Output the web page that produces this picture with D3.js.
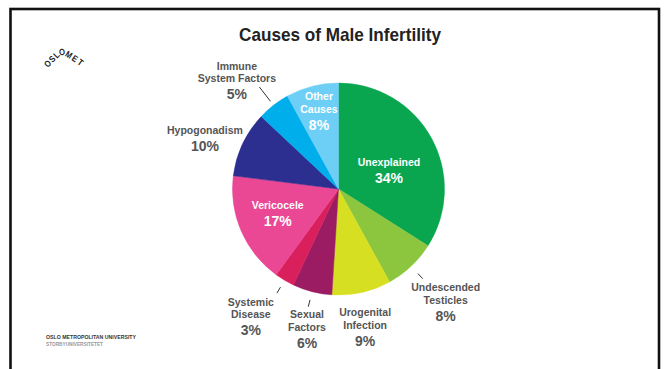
<!DOCTYPE html>
<html><head><meta charset="utf-8">
<script src="https://cdn.jsdelivr.net/npm/d3@7"></script>
<style>
html,body{margin:0;padding:0;background:#fff;}
svg{display:block;}
text{font-family:"Liberation Sans",Arial,Helvetica,sans-serif;font-weight:bold;}
</style></head>
<body>
<svg id="chart" width="666" height="369"></svg>
<script>
// ---- data ----
const categories = ["Unexplained","Undescended Testicles","Urogenital Infection","Sexual Factors","Systemic Disease","Vericocele","Hypogonadism","Immune System Factors","Other Causes"];
const labelLines = [["Unexplained"],["Undescended","Testicles"],["Urogenital","Infection"],["Sexual","Factors"],["Systemic","Disease"],["Vericocele"],["Hypogonadism"],["Immune","System Factors"],["Other","Causes"]];
const values = [34, 8, 9, 6, 3, 17, 10, 5, 8];
const colors = ["#0aa64f","#8cc63f","#d6df22","#9c1c63","#da1f5d","#ea4895","#2c2f8f","#00aeec","#6dcff6"];
const title = "Causes of Male Infertility";
const logoLetters = ["O","S","L","O","M","E","T"];

// ---- layout (not data) ----
const W = 666, H = 369;
const cx = 338.5, cy = 189, R = 106;
// label placement: [angle offset deg, distance from centre, inside?]
const labelLayout = [
  [4.3, 55.5, true],
  [-3.2, 148, false],
  [0.8, 130, false],
  [-0.7, 133, false],
  [6.3, 146, false],
  [5.1, 64, true],
  [-2.8, 144.5, false],
  [-2.7, 156.5, false],
  [2.0, 91, true]
];
// leader ticks: [r0, r1] or null
const ticks = [null, [116,123], null, [114.5,121.5], [114,121], null, null, [111,129], null];
// logo letter placement [x, y, rotation]
const logoPos = [[47.5,63.5,-45],[52,59,-45],[56.3,54.8,-45],[62,52,-8],[68.8,54.6,32],[74.8,58.4,34],[80.5,62.3,36]];

const svg = d3.select("#chart");

// frame
svg.append("rect").attr("x",10.5).attr("y",9).attr("width",648.5).attr("height",400)
  .attr("fill","none").attr("stroke","#111").attr("stroke-width",2.6);

// title
svg.append("text").attr("x",340).attr("y",41).attr("text-anchor","middle")
  .attr("font-size",19).attr("fill","#222")
  .attr("textLength",202).attr("lengthAdjust","spacingAndGlyphs").text(title);

// logo
const logo = svg.append("g");
logoLetters.forEach((ch,i)=>{
  const [x,y,r] = logoPos[i];
  logo.append("text").attr("transform",`translate(${x},${y}) rotate(${r}) scale(0.85,1)`)
    .attr("text-anchor","middle").attr("dominant-baseline","central")
    .attr("font-size",9).attr("font-weight",900).attr("fill","#222").text(ch);
});

svg.append("text").attr("x",46).attr("y",339).attr("font-size",5.5).attr("fill","#333")
  .attr("textLength",90).attr("lengthAdjust","spacingAndGlyphs").text("OSLO METROPOLITAN UNIVERSITY");
svg.append("text").attr("x",46).attr("y",345.5).attr("font-size",5.5).attr("fill","#999").attr("font-weight","normal")
  .attr("textLength",57).attr("lengthAdjust","spacingAndGlyphs").text("STORBYUNIVERSITETET");

// pie
const pie = d3.pie().sort(null).value(d => d).startAngle(0).endAngle(2*Math.PI);
const arcs = pie(values);
const arc = d3.arc().innerRadius(0).outerRadius(R);
const g = svg.append("g").attr("transform",`translate(${cx},${cy})`);
g.selectAll("path.slice").data(arcs).join("path").attr("class","slice")
  .attr("d",arc).attr("fill",(d,i)=>colors[i]).attr("stroke",(d,i)=>colors[i]).attr("stroke-width",0.5);

// ticks
arcs.forEach((d,i)=>{
  if(!ticks[i]) return;
  const a = (d.startAngle+d.endAngle)/2;
  const [r0,r1] = ticks[i];
  g.append("line")
    .attr("x1",r0*Math.sin(a)).attr("y1",-r0*Math.cos(a))
    .attr("x2",r1*Math.sin(a)).attr("y2",-r1*Math.cos(a))
    .attr("stroke","#333").attr("stroke-width",1);
});

// labels
const pct = d3.format(".0f");
arcs.forEach((d,i)=>{
  const [da, dist, inside] = labelLayout[i];
  const a = (d.startAngle+d.endAngle)/2 + da*Math.PI/180;
  const x = dist*Math.sin(a), y = -dist*Math.cos(a);
  const fill = inside ? "#fff" : "#555";
  const t = g.append("g").attr("transform",`translate(${x},${y})`);
  const lines = labelLines[i];
  lines.forEach((ln,j)=>{
    t.append("text").attr("x",0).attr("y",j*12.5).attr("text-anchor","middle")
      .attr("font-size",10.5).attr("fill",fill).text(ln);
  });
  t.append("text").attr("x",0).attr("y",(lines.length-1)*12.5+17).attr("text-anchor","middle")
    .attr("font-size",14).attr("fill",fill).text(pct(d.data)+"%");
});
</script>
</body></html>
